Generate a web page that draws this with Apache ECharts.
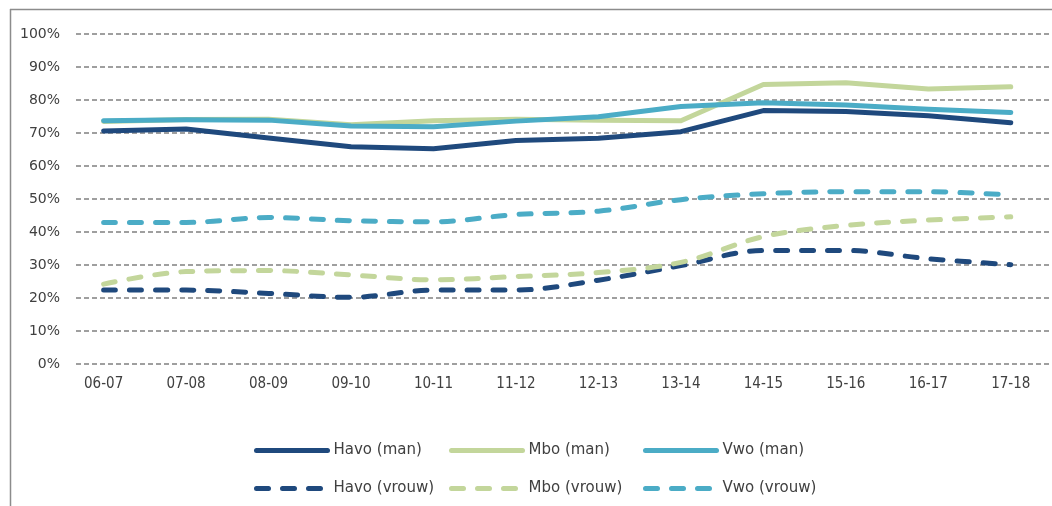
<!DOCTYPE html>
<html>
<head>
<meta charset="utf-8">
<script src="https://cdn.jsdelivr.net/npm/echarts@6/dist/echarts.min.js"></script>
<style>html,body{margin:0;padding:0;background:#fff;}#c{width:1052px;height:506px;}</style>
</head>
<body>
<div id="c"></div>
<script>
const categories = ['06-07','07-08','08-09','09-10','10-11','11-12','12-13','13-14','14-15','15-16','16-17','17-18'];
const havoMan   = [70.6, 71.2, 68.5, 65.8, 65.2, 67.7, 68.4, 70.4, 76.8, 76.5, 75.2, 73.1];
const mboMan    = [73.5, 74.1, 74.2, 72.5, 73.7, 74.2, 73.9, 73.7, 84.7, 85.2, 83.3, 84.0];
const vwoMan    = [73.7, 74.0, 73.9, 72.1, 71.9, 73.6, 74.9, 78.0, 79.2, 78.5, 77.2, 76.2];
const havoVrouw = [22.4, 22.4, 21.4, 20.2, 22.4, 22.4, 25.4, 29.8, 34.4, 34.4, 31.9, 30.1];
const mboVrouw  = [24.2, 28.0, 28.3, 27.0, 25.5, 26.5, 27.7, 30.8, 38.6, 42.0, 43.6, 44.6];
const vwoVrouw  = [42.9, 42.9, 44.4, 43.4, 43.1, 45.3, 46.3, 49.8, 51.6, 52.2, 52.2, 51.2];
const seriesNames = ['Havo (man)','Mbo (man)','Vwo (man)','Havo (vrouw)','Mbo (vrouw)','Vwo (vrouw)'];
const seriesData = [havoMan, mboMan, vwoMan, havoVrouw, mboVrouw, vwoVrouw];
const yTicks = [0,10,20,30,40,50,60,70,80,90,100];

const colors = ['#1F497D','#C3D69B','#4BACC6','#1F497D','#C3D69B','#4BACC6'];
const FONT = 'DejaVu Sans';

const series = seriesData.map((d, i) => {
  const dashed = i >= 3;
  return {
    name: seriesNames[i],
    type: 'line',
    xAxisIndex: 0, yAxisIndex: 0,
    data: d,
    symbol: 'none',
    smooth: dashed ? 0.35 : false,
    z: dashed ? 3 : 4,
    color: colors[i],
    lineStyle: {
      color: colors[i],
      width: 5,
      type: dashed ? [12, 14] : 'solid',
      cap: 'round',
      join: 'round'
    }
  };
});
series[0].z = 6; series[2].z = 5; series[1].z = 4;

const legendPos = [
  [254, 443],[449, 443],[643, 443],
  [254, 481],[449, 481],[643, 481]
];
const legends = seriesNames.map((n, i) => ({
  data: [n],
  left: legendPos[i][0], top: legendPos[i][1],
  itemWidth: 71, itemHeight: 14, itemGap: 0, padding: 0,
  selectedMode: false,
  itemStyle: { opacity: 0 },
  lineStyle: { width: 5, cap: 'round' },
  textStyle: { fontFamily: FONT, fontSize: 15, color: '#404040', padding: [0,0,0,1] }
}));

const chart = echarts.init(document.getElementById('c'), null, { renderer: 'canvas' });
chart.setOption({
  animation: false,
  backgroundColor: '#fff',
  legend: legends,
  grid: [
    { left: 62.4, top: 34, width: 998.4, height: 330, containLabel: false },
    { left: 76, top: 34, right: 0, height: 330, containLabel: false }
  ],
  xAxis: [
    { type: 'category', gridIndex: 0, data: categories, boundaryGap: true,
      axisLine: { show: false }, axisTick: { show: false },
      axisLabel: { fontFamily: 'DejaVu Sans Condensed', fontSize: 15, color: '#404040', margin: 13, interval: 0 } },
    { type: 'value', gridIndex: 1, show: false, min: 0, max: 1 }
  ],
  yAxis: [
    { type: 'value', gridIndex: 0, min: 0, max: 100, interval: 10, show: false, splitLine: { show: false } },
    { type: 'value', gridIndex: 1, min: 0, max: 100, interval: 10,
      axisLine: { show: false }, axisTick: { show: false },
      axisLabel: { fontFamily: FONT, fontSize: 14, color: '#404040', margin: 16,
        formatter: v => yTicks.includes(v) ? v + '%' : '' },
      splitLine: { show: true, lineStyle: { color: '#808080', width: 1.5, type: [5, 3] } } }
  ],
  graphic: [
    { type: 'line', shape: { x1: 10.5, y1: 9, x2: 10.5, y2: 506 }, style: { stroke: '#8c8c8c', lineWidth: 1.5 }, silent: true },
    { type: 'line', shape: { x1: 10, y1: 9.5, x2: 1052, y2: 9.5 }, style: { stroke: '#8c8c8c', lineWidth: 1.5 }, silent: true }
  ],
  series: series
});
</script>
</body>
</html>
